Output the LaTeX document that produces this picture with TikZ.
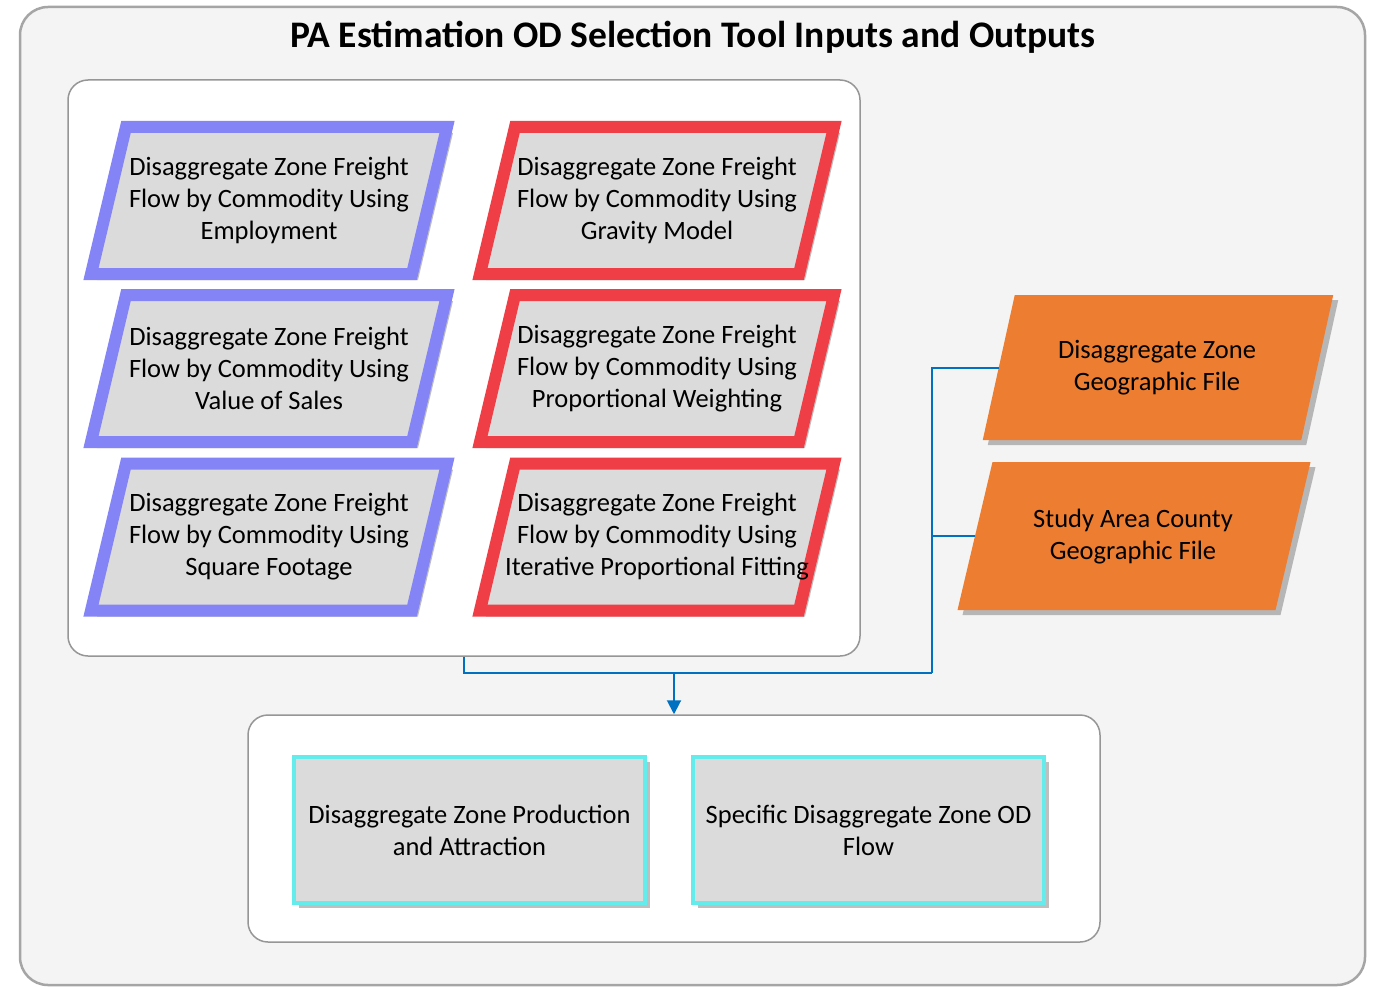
\documentclass[tikz,border=0pt]{standalone}
\usepackage{fontspec}
\setmainfont{Carlito}
\usetikzlibrary{shadows,arrows.meta}
\definecolor{outerbg}{RGB}{244,244,244}
\definecolor{outerline}{RGB}{165,165,165}
\definecolor{panelline}{RGB}{150,150,150}
\definecolor{boxgray}{RGB}{219,219,219}
\definecolor{bluep}{RGB}{132,132,246}
\definecolor{redp}{RGB}{240,62,70}
\definecolor{orangep}{RGB}{237,125,49}
\definecolor{cyanp}{RGB}{100,236,236}
\definecolor{connblue}{RGB}{0,112,192}
\newcommand{\bodyfont}{\fontsize{26.5}{32}\selectfont}
% \parashape{cx}{cy}{w}{h}{skew}{style}
\newcommand{\parashape}[6]{%
  \begin{scope}[shift={(#1,#2)}]
    \path[#6] ({-#3/2+#5/2},{-#4/2}) -- ({#3/2+#5/2},{-#4/2}) -- ({#3/2-#5/2},{#4/2}) -- ({-#3/2-#5/2},{#4/2}) -- cycle;
  \end{scope}}
\begin{document}
\begin{tikzpicture}[x=1pt,y=-1pt,
  panel/.style={draw=panelline, fill=white, line width=1.5pt, rounded corners=20pt, inner sep=0pt},
  softshadow/.style={drop shadow={shadow xshift=6pt, shadow yshift=-6pt, opacity=0.25, fill=black}},
  parashadow/.style={softshadow, fill=boxgray, line width=12pt, line join=miter},
  bluepara/.style={parashadow, draw=bluep},
  redpara/.style={parashadow, draw=redp},
  orangepara/.style={fill=orangep, drop shadow={shadow xshift=5pt, shadow yshift=-5pt, opacity=0.25, fill=black}},
  label/.style={inner sep=0pt, align=center, font=\bodyfont},
  outbox/.style={draw=cyanp, fill=boxgray, line width=4pt, inner sep=0pt, align=center,
    font=\bodyfont, minimum width=351pt, minimum height=146pt,
    drop shadow={shadow xshift=5pt, shadow yshift=-5pt, opacity=0.25, fill=black}},
  conn/.style={draw=connblue, line width=2pt}]
\useasboundingbox (0,0) rectangle (1375,987);
\fill[white] (0,0) rectangle (1375,987);
\node[draw=outerline, fill=outerbg, line width=2.5pt, rounded corners=28pt,
  minimum width=1345pt, minimum height=978pt, inner sep=0pt] (outer) at (692.5,496) {};
\node[font=\fontsize{37.5}{44}\selectfont\bfseries, inner sep=0pt] (title) at (693,37)
  {PA Estimation OD Selection Tool Inputs and Outputs};
\node[panel, minimum width=792pt, minimum height=576pt] (topbox) at (464,368) {};
\node[panel, minimum width=852pt, minimum height=227pt] (botbox) at (674,828.5) {};
% input parallelograms
\parashape{269}{200.5}{321}{147}{35}{bluepara}
\parashape{269}{368.5}{321}{147}{35}{bluepara}
\parashape{269}{537}{321}{147}{35}{bluepara}
\parashape{657}{200.5}{319}{147}{35}{redpara}
\parashape{657}{368.5}{319}{147}{35}{redpara}
\parashape{657}{537}{319}{147}{35}{redpara}
\parashape{1158}{367.5}{318.5}{145}{32}{orangepara}
\parashape{1134}{536}{318}{148}{35}{orangepara}
\node[label] (b1) at (269,200.5) {Disaggregate Zone Freight\\Flow by Commodity Using\\Employment};
\node[label] (b2) at (269,368.5) {Disaggregate Zone Freight\\Flow by Commodity Using\\Value of Sales};
\node[label] (b3) at (269,537) {Disaggregate Zone Freight\\Flow by Commodity Using\\Square Footage};
\node[label] (r1) at (657,200.5) {Disaggregate Zone Freight\\Flow by Commodity Using\\Gravity Model};
\node[label] (r2) at (657,368.5) {Disaggregate Zone Freight\\Flow by Commodity Using\\Proportional Weighting};
\node[label] (r3) at (657,537) {Disaggregate Zone Freight\\Flow by Commodity Using\\Iterative Proportional Fitting};
\node[label] (o1) at (1157,368) {Disaggregate Zone\\Geographic File};
\node[label] (o2) at (1133,536.5) {Study Area County\\Geographic File};
\coordinate (o1w) at (998.75,367.5);
\coordinate (o2w) at (975,536);
% outputs
\node[outbox] (p1) at (469.5,830) {Disaggregate Zone Production\\and Attraction};
\node[outbox] (p2) at (868.5,830) {Specific Disaggregate Zone OD\\Flow};
% connectors
\coordinate (bus) at (932,673);
\coordinate (j) at (674,673);
\draw[conn] (topbox.south) |- (bus);
\draw[conn] (o1w) -| (bus);
\draw[conn] (o2w) -- (o2w -| bus);
\draw[conn, -{Triangle[width=14pt,length=14pt]}] (j) -- (botbox.north);
\end{tikzpicture}
\end{document}
